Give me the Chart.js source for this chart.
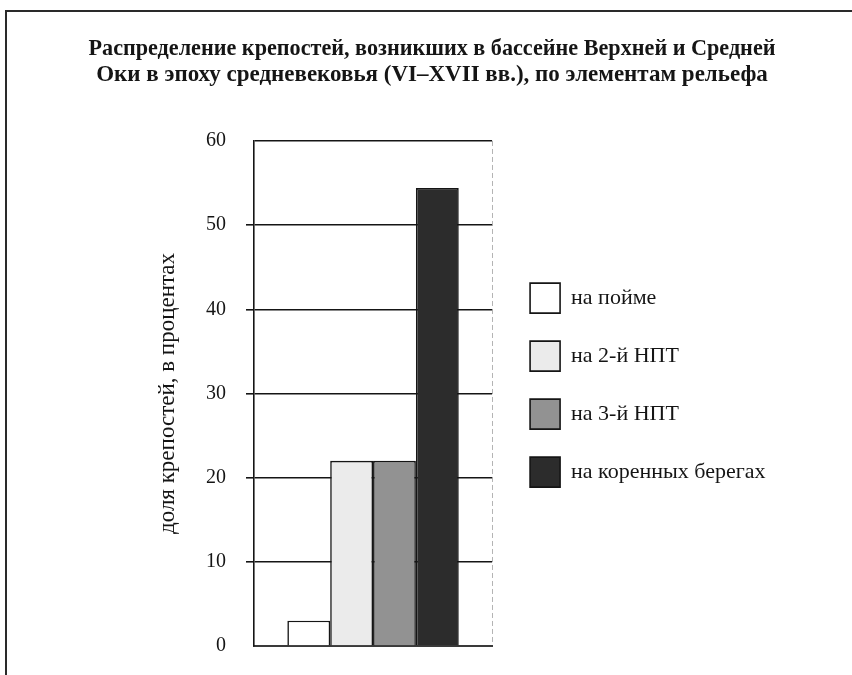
<!DOCTYPE html>
<html lang="ru">
<head>
<meta charset="utf-8">
<title>Распределение крепостей по элементам рельефа</title>
<script src="https://cdn.jsdelivr.net/npm/chart.js@4.4.1/dist/chart.umd.min.js"></script>
<style>
  html, body { margin: 0; padding: 0; background: #fff; overflow: hidden; }
  #frame { position: absolute; left: 5px; top: 10px; width: 900px; height: 700px;
           border-top: 2px solid #2a2a2a; border-left: 2px solid #2a2a2a; }
  #wrap { position: absolute; left: 0; top: 0; width: 852px; height: 675px; }
</style>
</head>
<body>
<div id="frame"></div>
<div id="wrap"><canvas id="chart" width="852" height="675"></canvas></div>
<script>
  // ---- data -------------------------------------------------------------
  var categories = [""];
  var seriesNames = ["на пойме", "на 2-й НПТ", "на 3-й НПТ", "на коренных берегах"];
  var seriesValues = [3, 22, 22, 54.4];
  var seriesColors = ["#ffffff", "#ebebeb", "#929292", "#2c2c2c"];
  var yTickMin = 0, yTickMax = 60, yTickStep = 10;
  var titleLines = [
    "Распределение крепостей, возникших в бассейне Верхней и Средней",
    "Оки в эпоху средневековья (VI–XVII вв.), по элементам рельефа"
  ];
  var yTitle = "доля крепостей, в процентах";

  var SERIF = "'Liberation Serif', 'Times New Roman', serif";
  var INK = "#151515";
  // side paddings: the title box between them is as wide as the printed title
  var PAD_L = 88.5, PAD_R = 76.5;

  var datasets = seriesNames.map(function (name, i) {
    return {
      label: name,
      data: [seriesValues[i]],
      backgroundColor: seriesColors[i],
      borderColor: INK,
      borderWidth: 1.6,
      categoryPercentage: 0.72,
      barPercentage: 1.0
    };
  });

  new Chart(document.getElementById("chart").getContext("2d"), {
    type: "bar",
    data: { labels: categories, datasets: datasets },
    options: {
      responsive: false,
      animation: false,
      layout: { padding: { left: PAD_L, right: PAD_R, top: 0, bottom: 26 } },
      plugins: {
        tooltip: { enabled: false },
        title: {
          display: true,
          text: titleLines,
          color: INK,
          font: { family: SERIF, size: 23, weight: "bold", lineHeight: 1.13 },
          padding: { top: 36, bottom: 53 }
        },
        legend: {
          position: "right",
          align: "center",
          fullSize: false,
          maxWidth: 400,
          // empty title with negative padding nudges the items up a little
          title: { display: true, text: "", font: { size: 1 }, padding: { top: -9, bottom: -9 } },
          labels: {
            color: INK,
            font: { family: SERIF, size: 22 },
            boxWidth: 30,
            boxHeight: 30,
            padding: 28
          }
        }
      },
      scales: {
        x: {
          type: "category",
          offset: true,
          grid: {
            display: true,
            drawTicks: false,
            lineWidth: 1,
            color: function (ctx) { return ctx.index === 0 ? "rgba(0,0,0,0)" : "#b4b4b4"; }
          },
          border: { display: true, color: "#3a3a3a", width: 2, dash: [5, 3] },
          ticks: { display: false }
        },
        y: {
          min: yTickMin,
          max: yTickMax,
          afterFit: function (s) { s.width = 254 - PAD_L; },
          ticks: {
            stepSize: yTickStep,
            color: INK,
            padding: 20,
            font: { family: SERIF, size: 20, lineHeight: 0.9 }
          },
          grid: {
            color: INK,
            lineWidth: 1.6,
            tickLength: 8,
            tickColor: function (ctx) {
              var v = ctx.tick ? ctx.tick.value : null;
              return (v === yTickMin || v === yTickMax) ? "rgba(0,0,0,0)" : INK;
            }
          },
          border: { display: true, color: INK, width: 1.6 },
          title: {
            display: true,
            text: yTitle,
            color: INK,
            font: { family: SERIF, size: 23 },
            padding: { top: 66, bottom: 0 }
          }
        },
        // spacer between the plot and the legend
        gap: {
          type: "linear",
          position: "right",
          display: true,
          grid: { display: false },
          ticks: { display: false },
          border: { display: false },
          afterFit: function (s) { s.width = 10; }
        }
      }
    }
  });
</script>
</body>
</html>
